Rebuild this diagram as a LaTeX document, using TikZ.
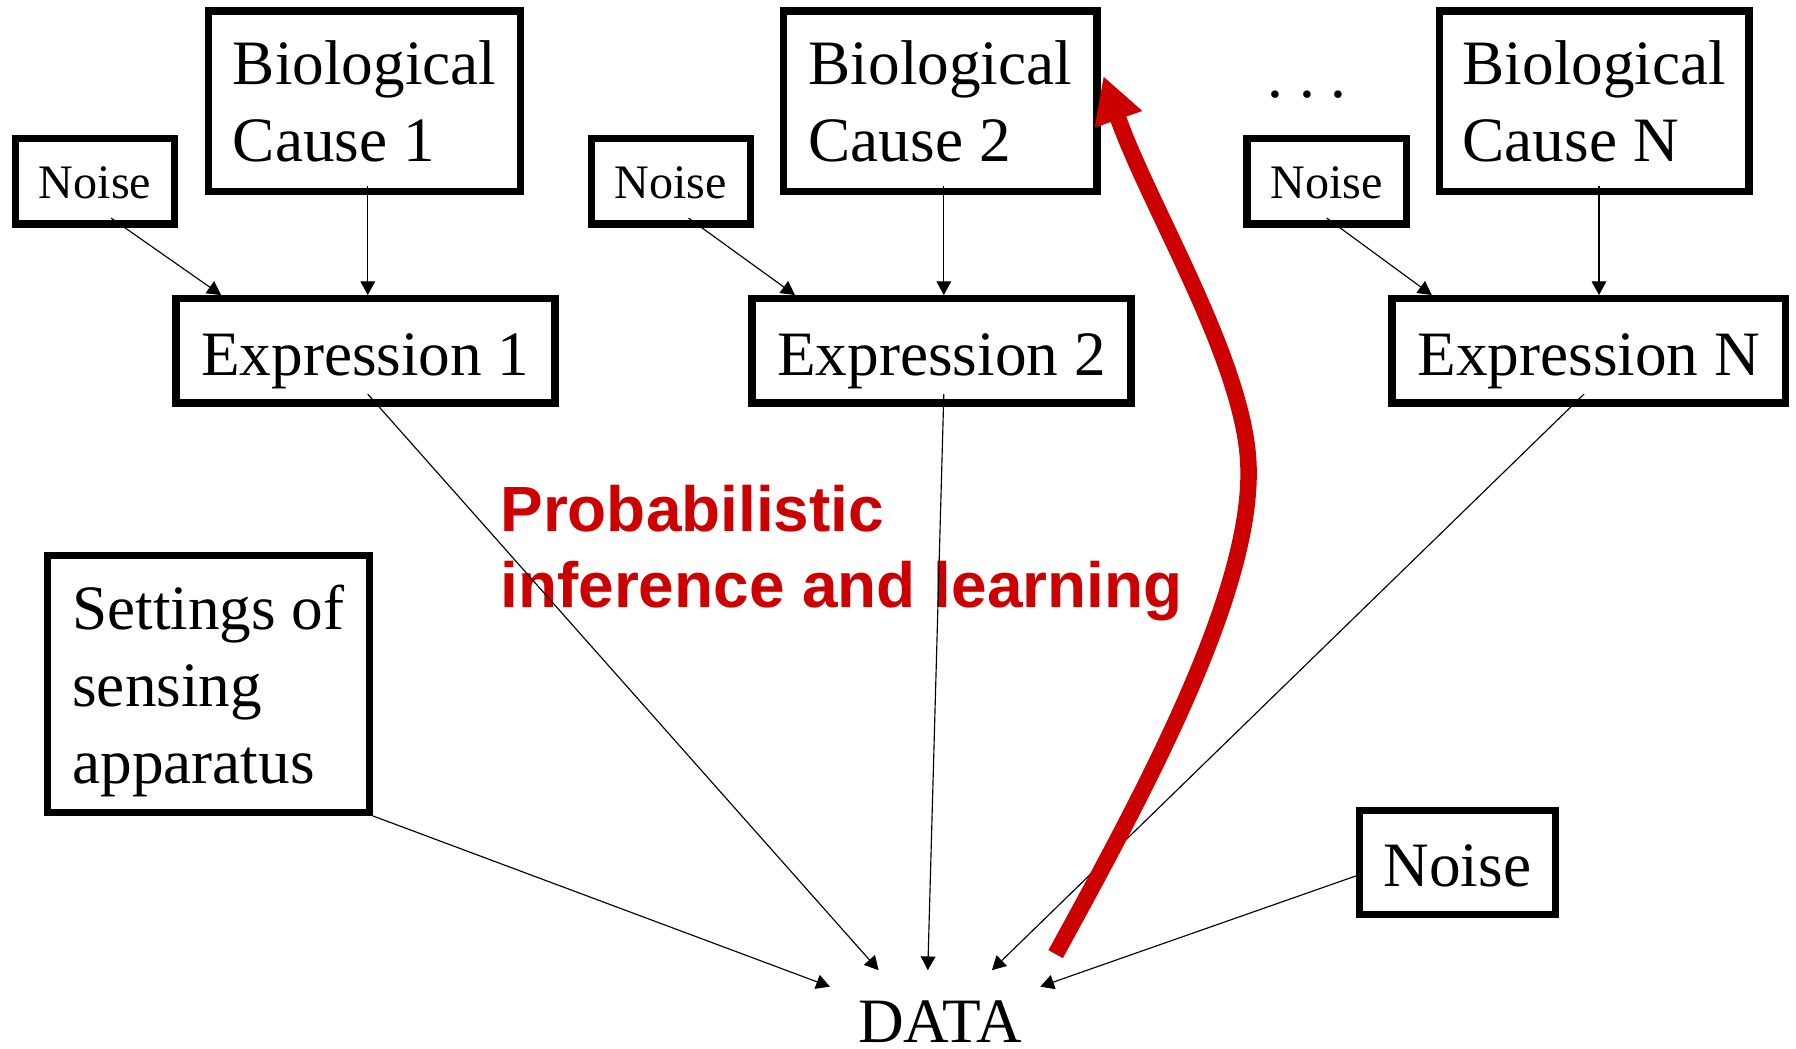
\documentclass[tikz,border=0pt]{standalone}
\usepackage{fontspec}
\setmainfont{Liberation Serif}
\newfontfamily\labelsans{Liberation Sans}
\usetikzlibrary{arrows.meta,calc}
\definecolor{infred}{RGB}{204,0,0}
\newcommand\bigtext{\fontsize{27.6pt}{33.6pt}\selectfont}
\newcommand\smalltext{\fontsize{21pt}{24pt}\selectfont}

\begin{document}
\begin{tikzpicture}[x=0.5pt,y=-0.5pt,
  nodebox/.style={draw, line width=3.2pt, inner sep=0pt, font=\bigtext},
  causebox/.style={nodebox, align=left, minimum height=78.6pt},
  noisebox/.style={nodebox, font=\smalltext, minimum width=69.5pt, minimum height=37.2pt, text height=15.3pt, text depth=0pt},
  exprbox/.style={nodebox, minimum height=45.5pt, text height=21.1pt, text depth=0pt},
  link/.style={line width=0.5pt, -{Triangle[length=6pt,width=6.4pt]}},
  inferarrow/.style={line width=7.2pt, draw=infred, -{Triangle[length=20pt,width=20.5pt]}}
]
\useasboundingbox (0,0) rectangle (1568,915);

% causes, their noise terms and the expression levels they drive
\node[causebox, minimum width=136pt]   (bio1)   at (318.3,88.3)  {Biological\\Cause 1};
\node[noisebox]                        (noise1) at (83,158.4)    {Noise};
\node[exprbox, minimum width=165.4pt]  (expr1)  at (319,306.3)   {Expression 1};

\node[causebox, minimum width=136.8pt] (bio2)   at (821,88.3)    {Biological\\Cause 2};
\node[noisebox]                        (noise2) at (585.7,158.4) {Noise};
\node[exprbox, minimum width=165.4pt]  (expr2)  at (822,306.3)   {Expression 2};

\node[causebox, minimum width=135pt]   (bioN)   at (1392,88.3)   {Biological\\Cause N};
\node[noisebox]                        (noiseN) at (1158.3,158.4) {Noise};
\node[exprbox, minimum width=171.8pt]  (exprN)  at (1387,306.3)  {Expression N};

\node[font=\bigtext, inner sep=0pt, anchor=base] (dots) at (1141,85.5) {.\ .\ .};

% measurement side
\node[nodebox, align=left, minimum width=140.5pt, minimum height=112.2pt] (settings) at (182,597)
  {Settings of\\sensing\\\smash{apparatus}};
\node[nodebox, minimum width=85.5pt, minimum height=45.25pt, text height=21pt, text depth=0pt] (noiseB) at (1272.3,753) {Noise};
\node[font=\bigtext, inner sep=0pt] (data) at (820.6,892.4) {DATA};

% label of the inference arrow
\node[font=\labelsans\bfseries\fontsize{27.9pt}{33.2pt}\selectfont, text=infred, align=left,
      inner sep=0pt, anchor=west] (inferlabel) at (436.5,482.6) {Probabilistic\\inference and learning};

% generative links
\draw[link] ([xshift=7pt,yshift=4.2pt]noise1.south) -- ([xshift=-63pt]expr1.north);
\draw[link] ([xshift=1.4pt,yshift=3.8pt]bio1.south) -- ([xshift=1.4pt]bio1.south |- expr1.north);
\draw[link] ([xshift=7.7pt,yshift=4.2pt]noise2.south) -- ([xshift=-64pt]expr2.north);
\draw[link] ([xshift=1.5pt,yshift=3.8pt]bio2.south) -- ([xshift=1.5pt]bio2.south |- expr2.north);
\draw[link] ([yshift=4.2pt]noiseN.south) -- ([xshift=-68.5pt]exprN.north);
\draw[link] ([xshift=2pt,yshift=3.8pt]bioN.south) -- ([xshift=2pt]bioN.south |- exprN.north);

\draw[link] (settings.south east) -- ($(data.center)+(-96,-31)$);
\draw[link] ([xshift=1pt,yshift=5.5pt]expr1.south) -- ($(data.center)+(-53.6,-45.4)$);
\draw[link] ([xshift=1pt,yshift=5.5pt]expr2.south) -- ($(data.center)+(-10.6,-45.4)$);
\draw[link] ([xshift=-2pt,yshift=5.5pt]exprN.south) -- ($(data.center)+(45.4,-45.4)$);
\draw[link] ([yshift=-5.9pt]noiseB.west) -- ($(data.center)+(87.6,-31)$);

% inference back from the data to a cause
\draw[inferarrow] ($(data.center)+(101,-59.4)$)
  .. controls +(78.4,-143) and +(3,110) .. (1090,408)
  .. controls +(-2,-90) and +(39.7,113.6) .. ($(bio2.east)+(2.3,-21.9)$);
\end{tikzpicture}
\end{document}
